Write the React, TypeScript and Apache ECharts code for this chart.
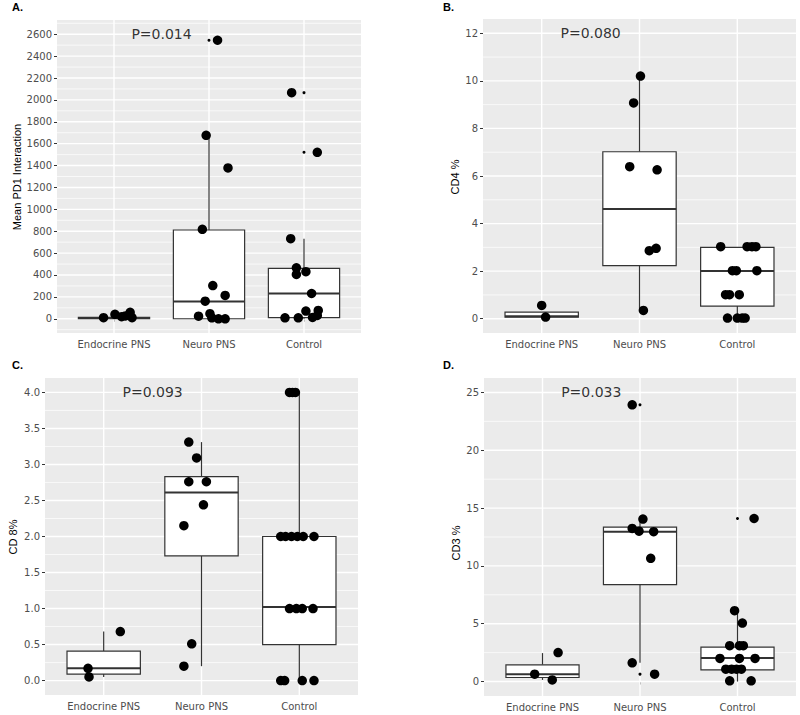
import React, { useEffect, useRef } from "react";
import * as echarts from "echarts";

const categories = ["Endocrine PNS", "Neuro PNS", "Control"];

// ---- Panel A: Mean PD1 Interaction ----
const aTicks = [0, 200, 400, 600, 800, 1000, 1200, 1400, 1600, 1800, 2000, 2200, 2400, 2600];
const aRange = [-130, 2730];
const aBoxes = [
  [1, 0, 2, 8, 14, 30],
  [2, 0, 0, 158, 811, 1676],
  [3, 0, 10, 231, 460, 732],
];
const aOutliers = [[2, 2545], [3, 2066], [3, 1521]];
const aPoints = [
  [0.89, 10], [1.01, 41], [1.08, 19], [1.12, 26], [1.17, 59], [1.19, 10],
  [2.09, 2545], [1.97, 1676], [2.2, 1378], [1.93, 817], [2.04, 303], [2.17, 213],
  [1.96, 161], [1.89, 24], [2.01, 46], [2.03, 9], [2.1, 0], [2.17, 0],
  [2.87, 2066], [3.14, 1521], [2.86, 732], [2.92, 466], [3.02, 430], [2.92, 405],
  [3.08, 231], [3.02, 70], [2.8, 9], [2.94, 9], [3.09, 12], [3.15, 76], [3.14, 30],
];

// ---- Panel B: CD4 % ----
const bTicks = [0, 2, 4, 6, 8, 10, 12];
const bRange = [-0.6, 12.6];
const bBoxes = [
  [1, 0.07, 0.07, 0.1, 0.28, 0.28],
  [2, 0.35, 2.23, 4.61, 7.02, 10.2],
  [3, 0, 0.53, 2.01, 3.0, 3.0],
];
const bOutliers: number[][] = [];
const bPoints = [
  [1.0, 0.56], [1.04, 0.07],
  [2.01, 10.2], [1.94, 9.07], [1.9, 6.39], [2.18, 6.26], [2.1, 2.86], [2.17, 2.96], [2.04, 0.35],
  [2.83, 3.03], [3.1, 3.03], [3.15, 3.03], [3.19, 3.03],
  [2.95, 2.02], [2.99, 2.02], [3.2, 2.02],
  [2.88, 1.01], [2.92, 1.01], [3.02, 1.01],
  [2.9, 0.03], [3.0, 0.03], [3.05, 0.03], [3.08, 0.03],
];

// ---- Panel C: CD 8% ----
const cTicks = [0, 0.5, 1, 1.5, 2, 2.5, 3, 3.5, 4];
const cRange = [-0.2, 4.2];
const cBoxes = [
  [1, 0.05, 0.09, 0.17, 0.41, 0.68],
  [2, 0.2, 1.73, 2.61, 2.83, 3.31],
  [3, 0, 0.5, 1.02, 2.0, 4.0],
];
const cOutliers: number[][] = [];
const cPoints = [
  [0.84, 0.17], [0.85, 0.05], [1.17, 0.68],
  [1.87, 3.31], [1.95, 3.09], [1.87, 2.76], [2.05, 2.76], [2.02, 2.44], [1.82, 2.15], [1.9, 0.51], [1.82, 0.2],
  [2.9, 4.0], [2.93, 4.0], [2.96, 4.0],
  [2.81, 2.0], [2.86, 2.0], [2.92, 2.0], [2.98, 2.0], [3.04, 2.0], [3.15, 2.0],
  [2.9, 1.0], [2.97, 1.0], [3.03, 1.0], [3.14, 1.0],
  [2.81, 0], [2.85, 0], [3.03, 0], [3.15, 0],
];

// ---- Panel D: CD3 % ----
const dTicks = [0, 5, 10, 15, 20, 25];
const dRange = [-1.25, 26.25];
const dBoxes = [
  [1, 0.14, 0.35, 0.64, 1.45, 2.46],
  [2, 1.62, 8.38, 12.96, 13.36, 14.1],
  [3, 0, 1.01, 2.03, 2.98, 6.13],
];
const dOutliers = [[2, 23.93], [2, 0.64], [3, 14.1]];
const dPoints = [
  [0.92, 0.64], [1.1, 0.14], [1.16, 2.51],
  [1.92, 23.93], [2.03, 14.05], [1.92, 13.24], [1.99, 13.0], [2.14, 12.96], [2.11, 10.66], [1.92, 1.62], [2.15, 0.64],
  [2.97, 6.13], [3.05, 5.06], [2.92, 3.1], [3.02, 3.1], [3.06, 3.1],
  [2.82, 2.0], [3.02, 2.0], [3.18, 2.0],
  [2.88, 1.07], [2.94, 1.07], [2.99, 1.07], [3.04, 1.07],
  [2.92, 0.06], [3.14, 0.06], [3.17, 14.1],
];

const pValues = ["P=0.014", "P=0.080", "P=0.093", "P=0.033"];
const yTitles = ["Mean PD1 Interaction", "CD4 %", "CD 8%", "CD3 %"];
const panelLetters = ["A.", "B.", "C.", "D."];

const panels = [
  { ticks: aTicks, range: aRange, boxes: aBoxes, outliers: aOutliers, points: aPoints, decimals: 0 },
  { ticks: bTicks, range: bRange, boxes: bBoxes, outliers: bOutliers, points: bPoints, decimals: 0 },
  { ticks: cTicks, range: cRange, boxes: cBoxes, outliers: cOutliers, points: cPoints, decimals: 1 },
  { ticks: dTicks, range: dRange, boxes: dBoxes, outliers: dOutliers, points: dPoints, decimals: 0 },
];

const grids = [
  { left: 57, top: 20, width: 304, height: 313 },
  { left: 483, top: 19, width: 313, height: 314 },
  { left: 45, top: 378, width: 313, height: 317 },
  { left: 484, top: 378, width: 312, height: 318 },
];
const titlePos = [
  [17, 177],
  [455, 177],
  [13, 537],
  [456, 543],
];
const letterPos = [
  [12, 1],
  [443, 1],
  [12, 359],
  [443, 359],
];

const TICK_FONT = "DejaVu Sans";

function gridLineData(ticks: number[], range: number[]) {
  const data: number[][] = [];
  const step = ticks[1] - ticks[0];
  ticks.forEach((t) => data.push([0, t]));
  const minors: number[] = [];
  for (let i = -1; i < ticks.length; i++) {
    const m = ticks[0] + step * i + step / 2;
    if (m > range[0] && m < range[1]) minors.push(m);
  }
  minors.forEach((m) => data.push([1, m]));
  [1, 2, 3].forEach((c) => data.push([2, c]));
  return data;
}

export default function App() {
  const ref = useRef<HTMLDivElement>(null);
  useEffect(() => {
    if (!ref.current) return;
    const chart = echarts.init(ref.current, null, { renderer: "svg" });

    const xAxes: any[] = [];
    const yAxes: any[] = [];
    const series: any[] = [];
    const graphics: any[] = [];

    panels.forEach((p, i) => {
      xAxes.push({
        gridIndex: i,
        type: "value",
        min: 0.4,
        max: 3.6,
        axisLine: { show: false },
        axisTick: { show: true, customValues: [1, 2, 3], length: 3, lineStyle: { color: "#333333", width: 1 } },
        axisLabel: {
          customValues: [1, 2, 3],
          formatter: (v: number) => categories[Math.round(v) - 1] || "",
          color: "#4d4d4d",
          fontSize: 10,
          fontFamily: TICK_FONT,
          margin: 6,
        },
        splitLine: { show: false },
      });
      yAxes.push({
        gridIndex: i,
        type: "value",
        min: p.range[0],
        max: p.range[1],
        axisLine: { show: false },
        axisTick: { show: true, customValues: p.ticks, length: 3, lineStyle: { color: "#333333", width: 1 } },
        axisLabel: {
          customValues: p.ticks,
          formatter: (v: number) => v.toFixed(p.decimals),
          color: "#4d4d4d",
          fontSize: 10,
          fontFamily: TICK_FONT,
          margin: 5,
        },
        splitLine: { show: false },
      });

      // grid lines
      series.push({
        type: "custom",
        xAxisIndex: i,
        yAxisIndex: i,
        z: 1,
        silent: true,
        data: gridLineData(p.ticks, p.range),
        renderItem: (params: any, api: any) => {
          const kind = api.value(0);
          const v = api.value(1);
          const cs = params.coordSys;
          if (kind === 2) {
            const x = api.coord([v, p.range[0]])[0];
            return {
              type: "line",
              shape: { x1: x, y1: cs.y, x2: x, y2: cs.y + cs.height },
              style: { stroke: "#ffffff", lineWidth: 1.4 },
            };
          }
          const y = api.coord([2, v])[1];
          return {
            type: "line",
            shape: { x1: cs.x, y1: y, x2: cs.x + cs.width, y2: y },
            style: { stroke: "#ffffff", lineWidth: kind === 0 ? 1.4 : 0.7 },
          };
        },
      });

      // boxes
      series.push({
        type: "custom",
        xAxisIndex: i,
        yAxisIndex: i,
        z: 2,
        silent: true,
        encode: { x: 0, y: [1, 2, 3, 4, 5] },
        data: p.boxes,
        renderItem: (params: any, api: any) => {
          const x = api.value(0);
          const lo = api.coord([x, api.value(1)]);
          const q1 = api.coord([x, api.value(2)]);
          const med = api.coord([x, api.value(3)]);
          const q3 = api.coord([x, api.value(4)]);
          const hi = api.coord([x, api.value(5)]);
          const hw = api.size([0.75, 0])[0] / 2;
          const cx = q1[0];
          const stroke = "#333333";
          return {
            type: "group",
            children: [
              { type: "line", shape: { x1: cx, y1: q3[1], x2: cx, y2: hi[1] }, style: { stroke, lineWidth: 1.2 } },
              { type: "line", shape: { x1: cx, y1: q1[1], x2: cx, y2: lo[1] }, style: { stroke, lineWidth: 1.2 } },
              {
                type: "rect",
                shape: { x: cx - hw, y: q3[1], width: hw * 2, height: Math.max(q1[1] - q3[1], 0.5) },
                style: { fill: "#ffffff", stroke, lineWidth: 1.2 },
              },
              { type: "line", shape: { x1: cx - hw, y1: med[1], x2: cx + hw, y2: med[1] }, style: { stroke, lineWidth: 2 } },
            ],
          };
        },
      });

      // outliers
      series.push({
        type: "scatter",
        xAxisIndex: i,
        yAxisIndex: i,
        z: 3,
        silent: true,
        symbolSize: 3,
        itemStyle: { color: "#000000", opacity: 1 },
        data: p.outliers,
      });

      // jittered points
      series.push({
        type: "scatter",
        xAxisIndex: i,
        yAxisIndex: i,
        z: 4,
        silent: true,
        symbolSize: 9.5,
        itemStyle: { color: "#000000", opacity: 1 },
        data: p.points,
      });

      // p-value annotation
      series.push({
        type: "scatter",
        xAxisIndex: i,
        yAxisIndex: i,
        z: 5,
        silent: true,
        symbolSize: 1,
        itemStyle: { color: "rgba(0,0,0,0)" },
        label: {
          show: true,
          position: "inside",
          formatter: pValues[i],
          fontSize: 14,
          fontFamily: TICK_FONT,
          color: "#000000",
        },
        data: [[1.5, p.ticks[p.ticks.length - 1]]],
      });

      graphics.push({
        type: "text",
        x: titlePos[i][0],
        y: titlePos[i][1],
        rotation: Math.PI / 2,
        style: {
          text: yTitles[i],
          align: "center",
          verticalAlign: "middle",
          fontSize: 11,
          fontFamily: "Liberation Sans",
          fill: "#000000",
        },
      });
      graphics.push({
        type: "text",
        x: letterPos[i][0],
        y: letterPos[i][1],
        style: {
          text: panelLetters[i],
          align: "left",
          verticalAlign: "top",
          fontSize: 11,
          fontWeight: "bold",
          fontFamily: "Liberation Sans",
          fill: "#000000",
        },
      });
    });

    chart.setOption({
      animation: false,
      backgroundColor: "#ffffff",
      grid: grids.map((g) => ({
        ...g,
        show: true,
        backgroundColor: "#EBEBEB",
        borderWidth: 0,
        containLabel: false,
      })),
      xAxis: xAxes,
      yAxis: yAxes,
      series,
      graphic: graphics,
    });

    return () => chart.dispose();
  }, []);

  return (
    <div
      ref={ref}
      style={{ position: "absolute", left: 0, top: 0, width: 800, height: 715 }}
    />
  );
}
